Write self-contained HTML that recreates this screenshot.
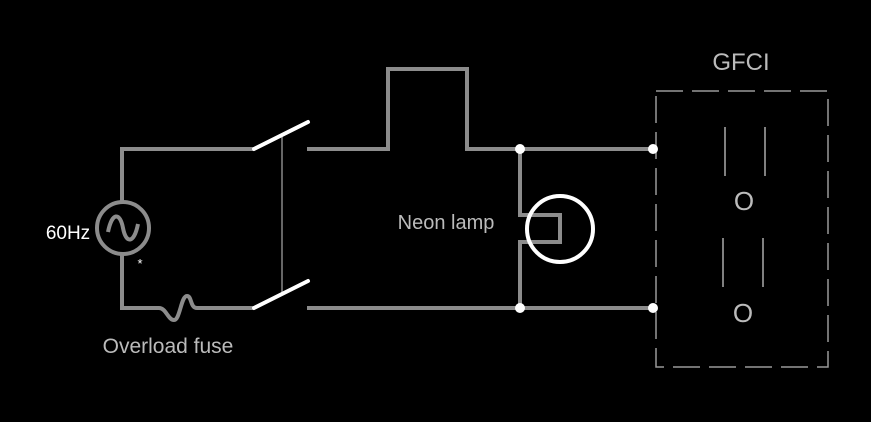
<!DOCTYPE html>
<html><head><style>body{margin:0;background:#000}svg{display:block}</style></head>
<body>
<svg width="871" height="422" xmlns="http://www.w3.org/2000/svg" font-family="Liberation Sans, sans-serif">
<rect width="871" height="422" fill="#000"/>
<g fill="none" stroke="#8c8c8c" stroke-width="4">
<polyline points="122,203 122,149 254,149"/>
<path d="M122,253 L122,308 L159,308 C166,308 168,320 174,320 C180,320 181,296 187,296 C192,296 190,308 197,308 L254,308"/>
<polyline points="307,149 388,149 388,69 467,69 467,149 653,149"/>
<line x1="307" y1="308" x2="653" y2="308"/>
<polyline points="520,149 520,215 560,215 560,242 520,242 520,308"/>
</g>
<line x1="282" y1="137" x2="282" y2="295" stroke="#888" stroke-width="1.5"/>
<g stroke="#fff" stroke-width="4" stroke-linecap="round">
<line x1="254" y1="149" x2="308" y2="122"/>
<line x1="254" y1="308" x2="308" y2="281"/>
</g>
<circle cx="123" cy="228" r="26" fill="none" stroke="#8c8c8c" stroke-width="4"/>
<path d="M108,232 C112,212 120,212 123,228 C126,244 134,244 138,224" fill="none" stroke="#8c8c8c" stroke-width="4"/>
<circle cx="560" cy="229" r="33" fill="none" stroke="#fff" stroke-width="4"/>
<rect x="656" y="91" width="172" height="276" fill="none" stroke="#999" stroke-width="1.5" stroke-dasharray="27,9"/>
<g fill="#fff"><circle cx="520" cy="149" r="5"/><circle cx="653" cy="149" r="5"/><circle cx="520" cy="308" r="5"/><circle cx="653" cy="308" r="5"/></g>
<g stroke="#aaa" stroke-width="1.5">
<line x1="725" y1="127" x2="725" y2="176"/><line x1="765" y1="127" x2="765" y2="176"/>
<line x1="723" y1="238" x2="723" y2="287"/><line x1="763" y1="238" x2="763" y2="287"/>
</g>
<g fill="#bbb" text-anchor="middle">
<text x="741" y="70" font-size="24">GFCI</text>
<text x="744" y="210" font-size="26">O</text>
<text x="743" y="322" font-size="26">O</text>
<text x="446" y="229" font-size="20">Neon lamp</text>
<text x="168" y="353" font-size="21">Overload fuse</text>
</g>
<text x="68" y="239" font-size="19" fill="#fff" text-anchor="middle">60Hz</text>
<text x="140" y="268" font-size="13" fill="#fff" text-anchor="middle">*</text>
</svg>
</body></html>
